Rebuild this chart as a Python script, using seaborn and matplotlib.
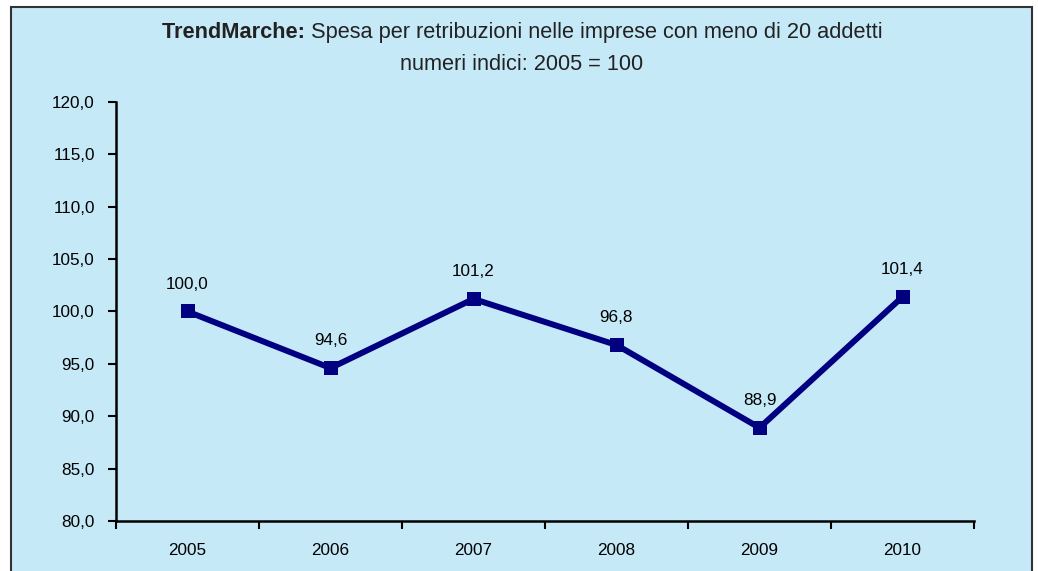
import matplotlib
matplotlib.use("Agg")
import matplotlib.pyplot as plt
from matplotlib.patches import Rectangle
from matplotlib.ticker import FuncFormatter, FixedLocator
import seaborn as sns
import numpy as np

# Dataset
years = ['2005', '2006', '2007', '2008', '2009', '2010']
index_values = [100.0, 94.6, 101.2, 96.8, 88.9, 101.4]
y_ticks = [80, 85, 90, 95, 100, 105, 110, 115, 120]

bg = '#C6E9F8'
navy = '#000080'

sns.set_style('ticks')
plt.rcParams['font.family'] = ['Liberation Sans', 'DejaVu Sans']
plt.rcParams['text.color'] = 'black'
plt.rcParams['xtick.color'] = 'black'
plt.rcParams['ytick.color'] = 'black'

fig = plt.figure(figsize=(10.38, 5.71), dpi=100)
fig.patch.set_facecolor('white')

# light blue panel with dark frame (bottom edge runs off the image)
W, H = 1038, 571
panel = Rectangle((11 / W, -0.05), (1032 - 11) / W, 1.05 - 7 / H, transform=fig.transFigure,
                  facecolor=bg, edgecolor='#333333', linewidth=1.5, zorder=-5)
fig.patches.append(panel)

ax = fig.add_axes([116 / W, 1 - 521 / H, (974 - 116) / W, (521 - 102) / H])
ax.set_facecolor('none')
ax.set_zorder(2)

pos = np.arange(len(years))
sns.lineplot(x=pos, y=index_values, ax=ax, color=navy, linewidth=4.3,
             marker='s', markersize=10.3, markeredgecolor=navy, markeredgewidth=0)

for x, v in zip(pos, index_values):
    ax.annotate(f'{v:.1f}'.replace('.', ','), (x, v), xytext=(0, 16.5),
                textcoords='offset points', ha='center', va='baseline',
                fontsize=12.3, color='black')

ax.set_xlim(-0.5, len(years) - 0.5)
ax.set_ylim(80, 120)
ax.set_yticks(y_ticks)
ax.yaxis.set_major_formatter(FuncFormatter(lambda v, p: f'{v:.1f}'.replace('.', ',')))

# ticks between categories, labels at centers
ax.xaxis.set_major_locator(FixedLocator(np.arange(len(years) + 1) - 0.5))
ax.xaxis.set_minor_locator(FixedLocator(pos))
ax.set_xticklabels([''] * (len(years) + 1))
ax.set_xticklabels(years, minor=True)
ax.tick_params(axis='x', which='major', length=6, width=1.5, direction='out', color='black')
ax.tick_params(axis='x', which='minor', length=0, pad=16, labelsize=12.3, labelcolor='black')
ax.tick_params(axis='y', length=5.8, width=1.5, direction='out', pad=9.4, labelsize=12.3,
               labelcolor='black')

for side in ['top', 'right']:
    ax.spines[side].set_visible(False)
for side in ['left', 'bottom']:
    ax.spines[side].set_linewidth(1.8)
    ax.spines[side].set_color('black')
ax.grid(False)

# title: bold prefix + regular rest, centered as one line
title_font = ['Liberation Sans Narrow', 'Liberation Sans', 'DejaVu Sans']
fig.canvas.draw()
r = fig.canvas.get_renderer()
t1 = fig.text(0, 0, 'TrendMarche: ', fontsize=15.7, fontweight='bold', family=title_font, color='#222222')
t2 = fig.text(0, 0, 'Spesa per retribuzioni nelle imprese con meno di 20 addetti',
              fontsize=15.7, family=title_font, color='#222222')
w1 = t1.get_window_extent(r).width
w2 = t2.get_window_extent(r).width
cx = 522
x0 = cx - (w1 + w2) / 2
y1 = 1 - 38 / H
t1.set_position((x0 / W, y1))
t2.set_position(((x0 + w1) / W, y1))
fig.text(cx / W, 1 - 70 / H, 'numeri indici: 2005 = 100', fontsize=15.7, family=title_font,
         color='#222222', ha='center')

fig.savefig('out.png', dpi=100, facecolor='white')
